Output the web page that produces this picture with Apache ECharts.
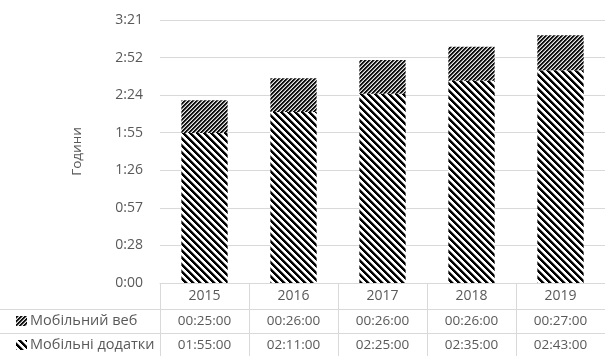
<!DOCTYPE html>
<html>
<head>
<meta charset="utf-8">
<script src="https://cdn.jsdelivr.net/npm/echarts@6/dist/echarts.min.js"></script>
<style>
  html, body { margin: 0; padding: 0; background: #fff; }
  #chart { width: 605px; height: 356px; }
</style>
</head>
<body>
<div id="chart"></div>
<script>
// Time spent per day on mobile, in minutes
const years = ['2015', '2016', '2017', '2018', '2019'];
const mobileWebMinutes = [25, 26, 26, 26, 27];
const mobileAppsMinutes = [115, 131, 145, 155, 163];
const webName = 'Мобільний веб';
const appsName = 'Мобільні додатки';
const axisTitle = 'Години';
// value axis runs in steps of 0.02 day
const axisStepMinutes = 28.8;
const axisMaxMinutes = 201.6;

const FONT = '"Open Sans", "Noto Sans", sans-serif';
const TEXT = '#595959';
const LINE = '#d9d9d9';

// minutes -> "h:mm" for the axis
function axisTime(v) {
  const m = Math.floor(v + 1e-6);
  return Math.floor(m / 60) + ':' + String(m % 60).padStart(2, '0');
}
// minutes -> "hh:mm:ss" for the table
function tableTime(v) {
  const h = Math.floor(v / 60), m = v % 60;
  return String(h).padStart(2, '0') + ':' + String(m).padStart(2, '0') + ':00';
}

// hatch tiles
function hatch(size, fn) {
  const c = document.createElement('canvas');
  c.width = size; c.height = size;
  const ctx = c.getContext('2d');
  for (let y = 0; y < size; y++) {
    for (let x = 0; x < size; x++) {
      ctx.fillStyle = fn(x, y);
      ctx.fillRect(x, y, 1, 1);
    }
  }
  return c;
}
// fine upward diagonal for mobile web
const webTile = hatch(4, (x, y) => {
  const d = (x + y) % 4;
  return d < 2 ? '#111' : (d === 2 ? '#8a8a8a' : '#e6e6e6');
});
// wide downward diagonal for mobile apps
const appsTile = hatch(7, (x, y) => {
  const d = ((x - y) % 7 + 7) % 7;
  return d < 3 ? '#000' : (d === 3 ? '#888' : '#fff');
});
const webFill = { image: webTile, repeat: 'repeat' };
const appsFill = { image: appsTile, repeat: 'repeat' };

const GRID = { left: 160, right: 0, top: 20, bottom: 73 };

const chart = echarts.init(document.getElementById('chart'), null, { renderer: 'canvas' });
chart.setOption({
  animation: false,
  backgroundColor: '#fff',
  textStyle: { fontFamily: FONT },
  grid: Object.assign({ containLabel: false, outerBoundsMode: 'none' }, GRID),
  xAxis: {
    type: 'category',
    data: years,
    axisLine: { show: true, lineStyle: { color: LINE, width: 1 } },
    axisTick: { show: true, length: 73, lineStyle: { color: LINE, width: 1 } },
    axisLabel: { color: TEXT, fontSize: 14, fontFamily: FONT, margin: 6 },
    splitLine: { show: false }
  },
  yAxis: {
    type: 'value',
    min: 0,
    max: axisMaxMinutes,
    interval: axisStepMinutes,
    name: axisTitle,
    nameLocation: 'middle',
    nameGap: 76,
    nameTextStyle: { color: TEXT, fontSize: 13.5, fontFamily: FONT },
    axisLine: { show: false },
    axisTick: { show: false },
    axisLabel: { color: TEXT, fontSize: 14, fontFamily: FONT, margin: 17, formatter: axisTime },
    splitLine: { lineStyle: { color: LINE, width: 1 } }
  },
  series: [
    { name: appsName, type: 'bar', stack: 'total', barWidth: '52%', data: mobileAppsMinutes, itemStyle: { color: appsFill } },
    { name: webName, type: 'bar', stack: 'total', barWidth: '52%', data: mobileWebMinutes, itemStyle: { color: webFill } }
  ]
});

// data table under the axis
const W = 605;
const rowLines = [309, 333];
const rowCenters = [321, 345];
const graphics = [];
rowLines.forEach(y => graphics.push({
  type: 'line', shape: { x1: 0, y1: y + 0.5, x2: W, y2: y + 0.5 },
  style: { stroke: LINE, lineWidth: 1 }, silent: true
}));
const rows = [
  { name: webName, values: mobileWebMinutes, fill: webFill },
  { name: appsName, values: mobileAppsMinutes, fill: appsFill }
];
rows.forEach((row, i) => {
  const cy = rowCenters[i];
  graphics.push({
    type: 'rect', shape: { x: 16, y: cy - 5, width: 11, height: 10 },
    style: { fill: row.fill }, silent: true
  });
  graphics.push({
    type: 'text', x: 30, y: cy,
    style: { text: row.name, fill: TEXT, font: '14.5px ' + FONT, textAlign: 'left', textVerticalAlign: 'middle' },
    silent: true
  });
  years.forEach((yr, j) => {
    const cx = chart.convertToPixel({ xAxisIndex: 0 }, yr);
    graphics.push({
      type: 'text', x: cx, y: cy,
      style: { text: tableTime(row.values[j]), fill: TEXT, font: '13.5px ' + FONT, textAlign: 'center', textVerticalAlign: 'middle' },
      silent: true
    });
  });
});
chart.setOption({ graphic: graphics });
</script>
</body>
</html>
